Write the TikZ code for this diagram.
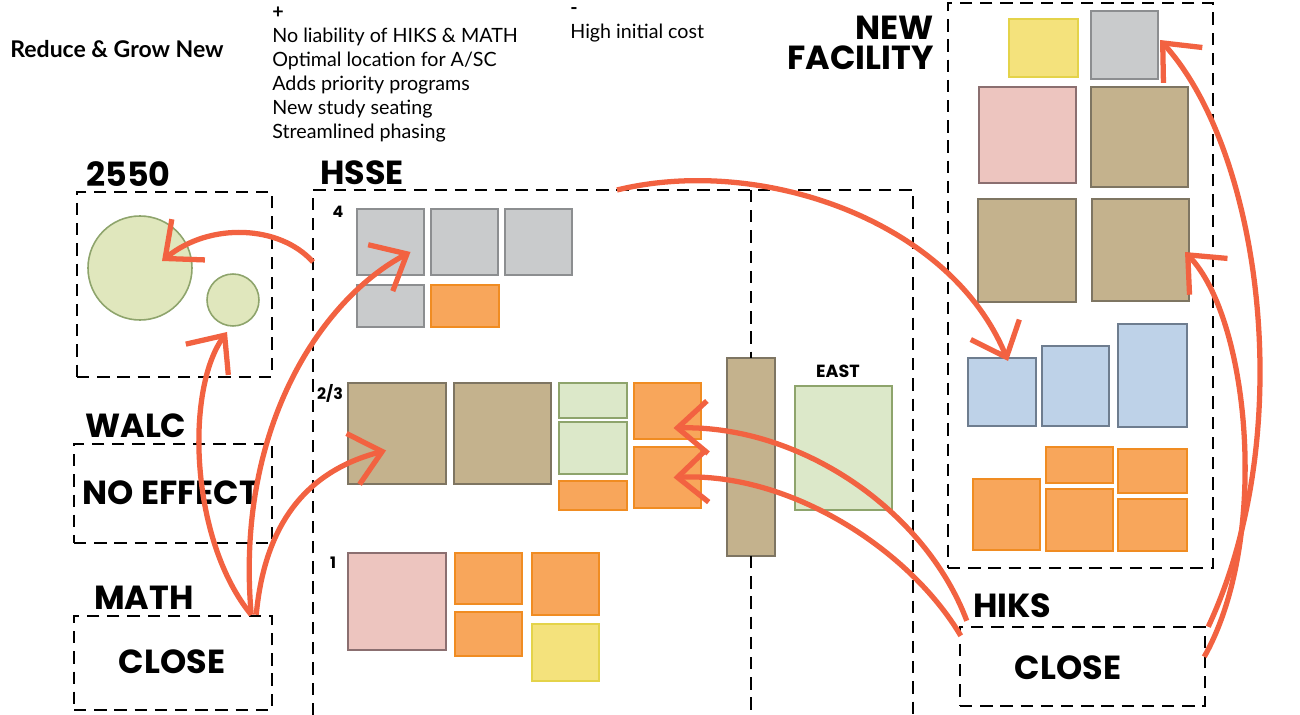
\documentclass[tikz,border=0pt]{standalone}
\usepackage{fontspec}
\setmainfont{Lato}
\newfontfamily\headfont{Poppins}
\usepackage{xcolor}
\usepackage{tikz}
\usetikzlibrary{arrows.meta, positioning, calc, shapes.geometric}
\definecolor{movered}{HTML}{F26241}
\definecolor{greyfill}{HTML}{C9CBCC}
\definecolor{greyline}{HTML}{8C8E90}
\definecolor{tanfill}{HTML}{C4B28D}
\definecolor{tanline}{HTML}{7E7562}
\definecolor{pinkfill}{HTML}{EDC5BF}
\definecolor{pinkline}{HTML}{8B6F70}
\definecolor{orangefill}{HTML}{F8A65B}
\definecolor{orangeline}{HTML}{F08C22}
\definecolor{greenfill}{HTML}{DCE8C9}
\definecolor{greenline}{HTML}{8EA46C}
\definecolor{yellowfill}{HTML}{F4E27C}
\definecolor{yellowline}{HTML}{E4D34A}
\definecolor{bluefill}{HTML}{BED2E8}
\definecolor{blueline}{HTML}{6E7D8F}

\begin{document}
\begin{tikzpicture}[x=0.02cm, y=-0.02cm,
    zone/.style={draw, line width=1.4pt, dash pattern=on 7pt off 4.5pt, inner sep=0pt},
    room/.style={draw, line width=0.9pt, inner sep=0pt, outer sep=0pt},
    sz/.style 2 args={minimum width=#1*0.02cm, minimum height=#2*0.02cm},
    grey/.style={room, fill=greyfill, draw=greyline},
    tan/.style={room, fill=tanfill, draw=tanline},
    pink/.style={room, fill=pinkfill, draw=pinkline},
    orange/.style={room, fill=orangefill, draw=orangeline},
    green/.style={room, fill=greenfill, draw=greenline},
    yellow/.style={room, fill=yellowfill, draw=yellowline},
    blue/.style={room, fill=bluefill, draw=blueline},
    big/.style={font=\headfont\bfseries\fontsize{19}{17}\selectfont, inner sep=0pt},
    floor/.style={font=\headfont\bfseries\fontsize{9}{9}\selectfont, inner sep=0pt},
    move/.style={draw=movered, line width=3pt, -{Straight Barb[length=0.6cm, width=1.05cm]}}]
    \useasboundingbox (0,0) rectangle (1300,715);

    % heading and pros / cons
    \node[anchor=west, inner sep=0pt, font=\bfseries\fontsize{13.1}{14}\selectfont] (title) at (10,49) {Reduce \& Grow New};
    \node[anchor=north west, inner sep=0pt, align=left, font=\fontsize{11.2}{13.6}\selectfont] (pros) at (272,7) {\textbf{+}\\No liability of HIKS \& MATH\\Optimal location for A/SC\\Adds priority programs\\New study seating\\Streamlined phasing};
    \node[anchor=north west, inner sep=0pt, align=left, font=\fontsize{11.2}{13.6}\selectfont] (cons) at (570,7) {\textbf{-}\\High initial cost};

    % 2550, WALC, MATH
    \node[big, anchor=west] (l2550) at (86,174) {2550};
    \node[zone, sz={195}{185}] (b2550) at (174.5,284.5) {};
    \node[circle, draw=greenline, fill=greenfill!85!yellowfill, line width=0.9pt, minimum size=104*0.02cm] (c1) at (140,268) {};
    \node[circle, draw=greenline, fill=greenfill!85!yellowfill, line width=0.9pt, minimum size=52*0.02cm] (c2) at (233,300) {};
    \node[big, anchor=west] (lwalc) at (85,426) {WALC};
    \node[zone, sz={198}{99}] (walc) at (173,493.5) {};
    \node[big] (noeff) at (171,493) {NO EFFECT};
    \node[big, anchor=west] (lmath) at (94,598) {MATH};
    \node[zone, sz={198}{94}] (math) at (173,663) {};
    \node[big] (mclose) at (172,662) {CLOSE};

    % HSSE
    \node[big, anchor=west] (lhsse) at (320,173) {HSSE};
    \draw[line width=1.4pt, dash pattern=on 7pt off 4.5pt] (313,715) -- (313,190) -- (913,190) -- (913,715);
    \coordinate (hsseW) at (313,262);
    \coordinate (hsseN) at (617,190);
    \node[floor] (f4) at (338,212) {4};
    \node[floor] (f23) at (330,393) {2/3};
    \node[floor] (f1) at (333,563) {1};
    \node[grey, sz={67}{66}] (g1) at (390.5,242) {};
    \node[grey, sz={67}{66}] (g2) at (464.5,242) {};
    \node[grey, sz={67}{66}] (g3) at (538.5,242) {};
    \node[grey, sz={67}{42}] (g4) at (390.5,306) {};
    \node[orange, sz={68}{42}] (o4) at (465,306) {};
    \node[tan, sz={98}{101}] (t1) at (397,433.5) {};
    \node[tan, sz={97}{101}] (t2) at (502.5,433.5) {};
    \node[green, sz={68}{35}] (gr1) at (593,400.5) {};
    \node[green, sz={68}{52}] (gr2) at (593,448) {};
    \node[orange, sz={68}{29}] (os) at (593,495.5) {};
    \node[orange, sz={67}{56}] (oa) at (667.5,411) {};
    \node[orange, sz={67}{61}] (ob) at (667.5,477.5) {};
    \node[tan, sz={48}{198}] (tcol) at (751,457) {};
    \draw[line width=1.4pt, dash pattern=on 7pt off 4.5pt] (tcol.north |- 0,190) -- (tcol.north);
    \draw[line width=1.4pt, dash pattern=on 7pt off 4.5pt] (tcol.south) -- (tcol.south |- 0,715);
    \node[font=\headfont\bfseries\fontsize{10}{10}\selectfont, inner sep=0pt] (least) at (838,371) {EAST};
    \node[green, sz={97}{124}] (east) at (843.5,448) {};
    \node[pink, sz={98}{97}] (p1) at (397,601.5) {};
    \node[orange, sz={67}{51}] (fo1) at (488.5,578.5) {};
    \node[orange, sz={67}{62}] (fo2) at (565.5,584) {};
    \node[orange, sz={67}{44}] (fo3) at (488.5,634) {};
    \node[yellow, sz={67}{57}] (fy) at (565.5,652.5) {};

    % new facility
    \node[big, anchor=east] (lnew) at (934,28) {NEW};
    \node[big, anchor=east] (lfac) at (934,58) {FACILITY};
    \node[zone, sz={265}{565}] (nf) at (1080.5,285.5) {};
    \node[yellow, sz={69}{58}] (ny) at (1043.5,48) {};
    \node[grey, sz={67}{68}] (ng) at (1124.5,45) {};
    \node[pink, sz={97}{96}] (np) at (1027.5,135) {};
    \node[tan, sz={97}{100}] (nt1) at (1139.5,137) {};
    \node[tan, sz={98}{103}] (nt2) at (1027,250.5) {};
    \node[tan, sz={97}{102}] (nt3) at (1140.5,250) {};
    \node[blue, sz={68}{68}] (nb1) at (1002,392) {};
    \node[blue, sz={67}{80}] (nb2) at (1075.5,386) {};
    \node[blue, sz={69}{103}] (nb3) at (1152.5,375.5) {};
    \node[orange, sz={67}{71}] (no1) at (1006.5,514.5) {};
    \node[orange, sz={67}{36}] (no2) at (1079.5,465) {};
    \node[orange, sz={69}{44}] (no3) at (1152.5,471) {};
    \node[orange, sz={67}{62}] (no4) at (1079.5,520) {};
    \node[orange, sz={69}{52}] (no5) at (1152.5,525) {};

    % HIKS
    \node[big, anchor=west] (lhiks) at (973,606) {HIKS};
    \node[zone, sz={245}{79}] (hiks) at (1082.5,666.5) {};
    \node[big] (hclose) at (1068,668) {CLOSE};

    % moves
    \draw[move] (hsseW) .. controls (280,225) and (210,222) .. ($(c1)+(22,-7)$);
    \draw[move] ($(math.north east)+(-22,0)$) .. controls (190,540) and (185,390) .. ($(c2)+(-6,32)$);
    \draw[move] ($(math.north east)+(-22,0)$) .. controls (235,430) and (320,300) .. ($(g1)+(20,10)$);
    \draw[move] ($(math.north east)+(-17,0)$) .. controls (265,520) and (310,470) .. ($(t1)+(-11,17)$);
    \draw[move] (hsseN) .. controls (760,155) and (950,220) .. ($(nb1.north)+(6,3)$);
    \draw[move] ($(hiks.north west)+(8,-5)$) .. controls (925,510) and (800,425) .. ($(oa)+(6,17)$);
    \draw[move] ($(hiks.north west)+(2,10)$) .. controls (910,550) and (790,472) .. ($(ob)+(6,0)$);
    \draw[move] ($(hiks.north east)+(2,1)$) .. controls (1300,430) and (1260,150) .. ($(ng.east)+(2,-5)$);
    \draw[move] ($(hiks.north east)+(-2,31)$) .. controls (1270,540) and (1250,320) .. ($(nt3.east)+(-4,2)$);
\end{tikzpicture}
\end{document}
